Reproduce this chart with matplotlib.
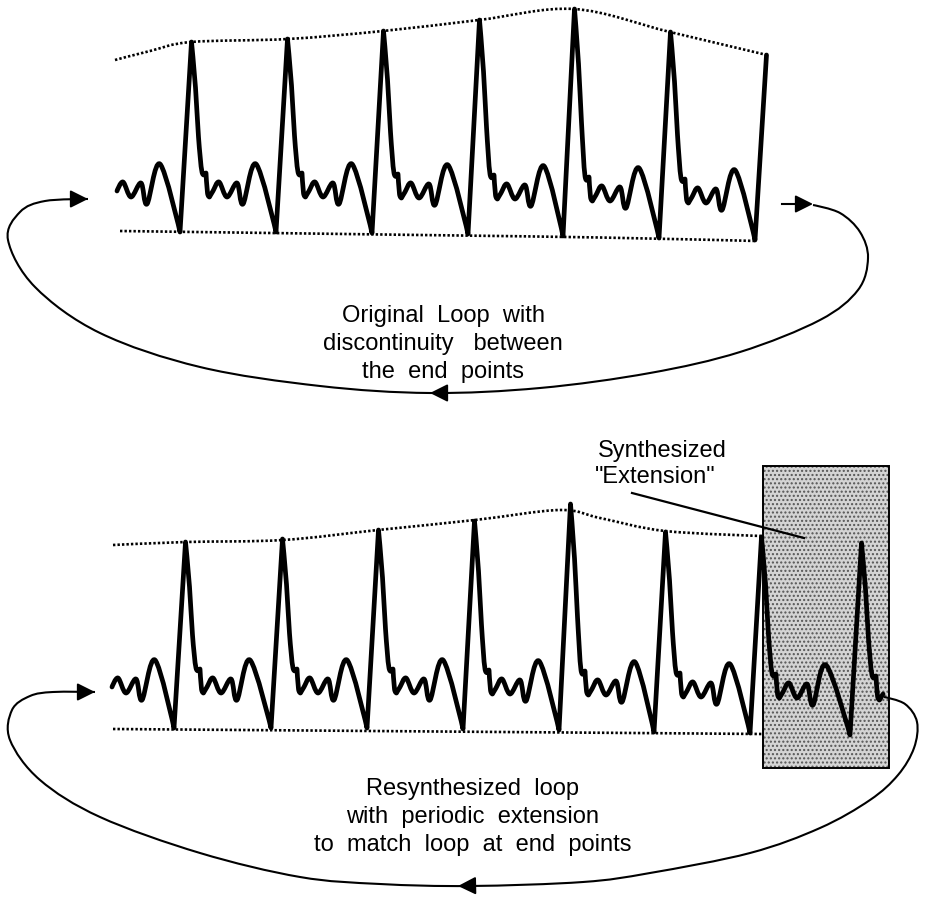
import matplotlib
matplotlib.use("Agg")
import matplotlib.pyplot as plt
import numpy as np
from matplotlib.path import Path
from matplotlib.patches import PathPatch, Rectangle

# one heartbeat, offsets from its trough (px): upstroke, fall, then the small waves
UP_T = 11.5
FALL_T = [15.5, 18.5]
FALL_FRAC = [0.76, 0.5]
TAIL_T = [22, 26, 27.5, 29.5, 33, 39, 47, 57, 63, 76]
TAIL_DY = [60, 59, 39, 35, 41, 50, 35, 49, 28, 68]
TAIL_CORNER = [False, True, False, True, False, False, False, False, False, False]

# top panel (original loop)
TOP_TROUGH_X = [84, 180, 276, 372, 468, 563, 659, 755]
TOP_TROUGH_Y = [232, 232, 232, 233, 234, 236, 238, 240]
TOP_PEAK_Y = [None, 42, 39, 31, 20, 9, 32, 55]
TOP_UPPER_X = [115, 150, 191, 288, 383, 479, 574, 670, 767]
TOP_UPPER_Y = [60, 51, 42, 39, 31, 20, 9, 32, 55]
TOP_LOWER_X = [120, 420, 600, 757]
TOP_LOWER_Y = [231, 235, 237.5, 241]

# bottom panel (resynthesized loop with extension)
BOT_TROUGH_X = [79, 174, 271, 367, 463, 559, 654, 750, 850]
BOT_TROUGH_Y = [728, 728, 728, 728, 729, 730, 732, 733, 735]
BOT_PEAK_Y = [None, 542, 539, 530, 521, 504, 532, 537, 543]
BOT_UPPER_X = [113, 186, 283, 378, 475, 560, 600, 665, 763]
BOT_UPPER_Y = [545, 542, 540, 530, 520, 510, 518, 531, 536]
BOT_LOWER_X = [113, 763]
BOT_LOWER_Y = [729, 734]
EXT_BOX = (763, 466, 126, 302)

# loop return curves
TOP_LOOP_X = [813, 840, 860, 868, 858, 820, 740, 650, 540, 430, 320, 200, 100, 35, 8, 20, 45, 88]
TOP_LOOP_Y = [205, 213, 232, 258, 290, 320, 352, 373, 388, 393, 386, 367, 333, 287, 240, 212, 201, 199]
BOT_LOOP_X = [884, 905, 917, 914, 898, 870, 820, 750, 650, 583, 470, 380, 300, 200, 100, 40, 10, 12, 30, 53, 95]
BOT_LOOP_Y = [697, 704, 722, 748, 775, 800, 828, 853, 873, 882, 886, 884, 877, 853, 817, 780, 740, 710, 696, 692, 692]

# arrowheads: tip and direction
ARROW_TIPS = [(88, 199), (813, 204), (430, 393), (95, 692), (458, 886)]
ARROW_DIRS = [(1, 0), (1, 0), (-1, 0), (1, 0), (-1, 0.02)]

TOP_TEXT = ["Original  Loop  with", "discontinuity   between", "the  end  points"]
TOP_TEXT_Y = [322, 350, 378]
BOT_TEXT = ["Resynthesized  loop", "with  periodic  extension", "to  match  loop  at  end  points"]
BOT_TEXT_Y = [795, 823, 851]
EXT_TEXT = ["Synthesized", "\"Extension\""]
EXT_TEXT_X = [662, 655]
EXT_TEXT_Y = [457, 483]


def beat_points(tx, ty, py, start_t, end_t):
    pts, corner = [], []
    n = len(tx)
    for i in range(n):
        x0, y0 = tx[i], ty[i]
        seq = [(0, y0, True)]
        if py[i] is not None:
            h = y0 - py[i]
            seq.append((UP_T, py[i], True))
            seq += [(t, y0 - f * h, False) for t, f in zip(FALL_T, FALL_FRAC)]
        seq += [(t, y0 - d, c) for t, d, c in zip(TAIL_T, TAIL_DY, TAIL_CORNER)]
        for t, y, c in seq:
            if i == 0 and t < start_t:
                continue
            if i == n - 1 and t > end_t:
                continue
            pts.append((x0 + t, y))
            corner.append(c)
    return pts, corner


def smooth_path(pts, corner=None):
    p = np.array(pts, float)
    n = len(p)
    if corner is None:
        corner = [False] * n
    tang = np.zeros_like(p)
    for i in range(1, n - 1):
        if not corner[i]:
            tang[i] = (p[i + 1] - p[i - 1]) / 2
    verts = [p[0]]
    codes = [Path.MOVETO]
    for i in range(n - 1):
        verts += [p[i] + tang[i] / 3, p[i + 1] - tang[i + 1] / 3, p[i + 1]]
        codes += [Path.CURVE4] * 3
    return Path(verts, codes)


fig = plt.figure(figsize=(9.26, 8.99), dpi=100)
ax = fig.add_axes([0, 0, 1, 1])
ax.set_xlim(0, 926)
ax.set_ylim(899, 0)
ax.axis("off")

# stippled extension box
plt.rcParams["hatch.linewidth"] = 1.0
ax.add_patch(Rectangle(EXT_BOX[:2], EXT_BOX[2], EXT_BOX[3], facecolor="#d4d4d4",
                       edgecolor="#555555", lw=0, hatch="....", zorder=1))
ax.add_patch(Rectangle(EXT_BOX[:2], EXT_BOX[2], EXT_BOX[3], facecolor="none",
                       edgecolor="black", lw=1.4, zorder=4))

dot = (0, (0.9, 0.8))
for xs, ys in [(TOP_UPPER_X, TOP_UPPER_Y), (TOP_LOWER_X, TOP_LOWER_Y),
               (BOT_UPPER_X, BOT_UPPER_Y), (BOT_LOWER_X, BOT_LOWER_Y)]:
    ax.add_patch(PathPatch(smooth_path(list(zip(xs, ys))), fill=False, lw=1.9,
                           ls=dot, edgecolor="black", zorder=2))

pts, cor = beat_points(TOP_TROUGH_X, TOP_TROUGH_Y, TOP_PEAK_Y, 33, UP_T)
ax.add_patch(PathPatch(smooth_path(pts, cor), fill=False, lw=3.4, edgecolor="black",
                       capstyle="round", joinstyle="round", zorder=3))
pts, cor = beat_points(BOT_TROUGH_X, BOT_TROUGH_Y, BOT_PEAK_Y, 33, 33)
ax.add_patch(PathPatch(smooth_path(pts, cor), fill=False, lw=3.4, edgecolor="black",
                       capstyle="round", joinstyle="round", zorder=3))

for xs, ys in [(TOP_LOOP_X, TOP_LOOP_Y), (BOT_LOOP_X, BOT_LOOP_Y)]:
    ax.add_patch(PathPatch(smooth_path(list(zip(xs, ys))), fill=False, lw=1.5,
                           edgecolor="black", zorder=3))
# short lead-in line before the top right arrow
ax.plot([782, 805], [204, 204], color="black", lw=1.5, zorder=3)

for (x, y), (dx, dy) in zip(ARROW_TIPS, ARROW_DIRS):
    ax.annotate("", xy=(x, y), xytext=(x - 14 * dx, y - 14 * dy),
                arrowprops=dict(arrowstyle="-|>,head_length=0.9,head_width=0.45",
                                mutation_scale=12, color="black", lw=1.4,
                                shrinkA=0, shrinkB=0), zorder=5)

ax.plot([632, 804], [493, 538], color="black", lw=1.6, zorder=5)

font = dict(family="Liberation Sans", fontsize=17, ha="center", va="baseline")
for s, y in zip(TOP_TEXT, TOP_TEXT_Y):
    ax.text(443, y, s, **font)
for s, y in zip(BOT_TEXT, BOT_TEXT_Y):
    ax.text(473, y, s, **font)
for s, x, y in zip(EXT_TEXT, EXT_TEXT_X, EXT_TEXT_Y):
    ax.text(x, y, s, **font)

fig.savefig("out.png", dpi=100, facecolor="white")
